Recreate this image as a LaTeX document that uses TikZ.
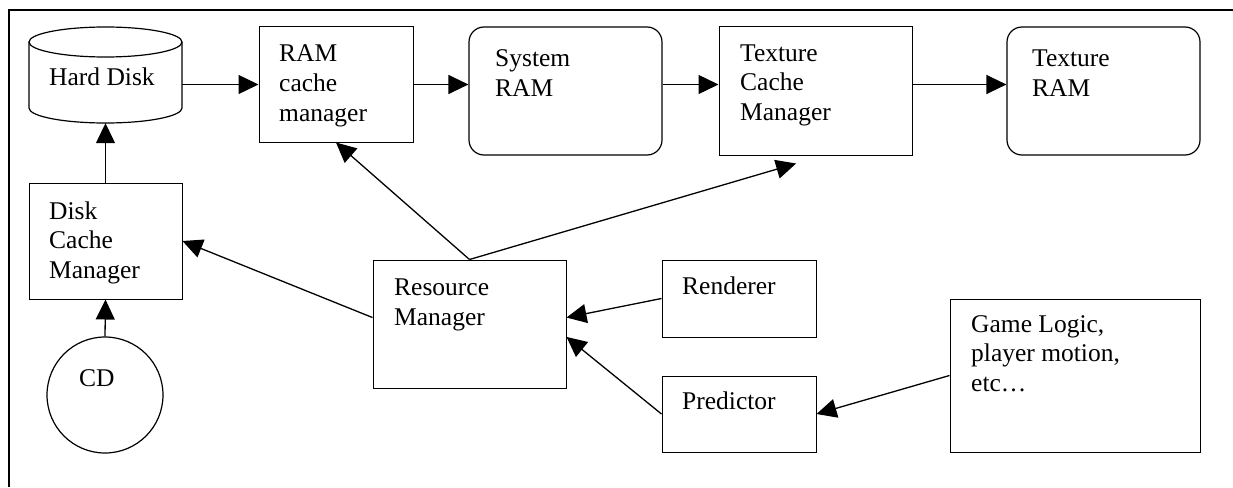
\documentclass[tikz,border=0pt]{standalone}
\usepackage{fontspec}
\setmainfont{Liberation Serif}
\usetikzlibrary{arrows.meta,calc}
\begin{document}
\begin{tikzpicture}[x=1pt,y=-1pt,
  box/.style={draw=black, line width=1pt, inner sep=0pt},
  rbox/.style={box, rounded corners=15pt},
  % text blocks are placed by the baseline of their last line
  txt/.style={anchor=base west, align=left, inner sep=0pt, font=\fontsize{25.5}{29.5}\selectfont},
  flow/.style={line width=1.3pt, -{Triangle[length=20pt,width=19pt]}},
  frame/.style={line width=1.3pt}]
\useasboundingbox (0,0) rectangle (1233,487);

% outer frame (open at right and bottom)
\draw[frame] (9,487) -- (9,10) -- (1233,10);

% hard disk cylinder
\node[inner sep=0pt, minimum width=153pt, minimum height=96pt] (hd) at (105.5,75) {};
\draw[line width=1.2pt] (105.5,42) ellipse [x radius=76.5pt, y radius=15pt];
\draw[line width=1.2pt] (29,42) -- (29,108)
  arc[start angle=180, end angle=360, x radius=76.5pt, y radius=15pt] -- (182,42);
\node[txt] (hdt) at (49,85) {Hard Disk};

% boxes
\node[box, minimum width=154pt, minimum height=115pt] (rcm) at (336,84.5) {};
\node[txt] (rcmt) at (279,121) {RAM\\cache\\manager};

\node[rbox, line width=1.2pt, minimum width=193pt, minimum height=128pt] (sr) at (565.5,91) {};
\node[txt] (srt) at (495,96) {System\\RAM};

\node[box, minimum width=193pt, minimum height=128pt] (tcm) at (815.5,91) {};
\node[txt] (tcmt) at (740,120) {Texture\\Cache\\Manager};

\node[rbox, line width=1.2pt, minimum width=193pt, minimum height=128pt] (tr) at (1103.5,91) {};
\node[txt] (trt) at (1032,96) {Texture\\RAM};

\node[box, minimum width=153pt, minimum height=116pt] (dcm) at (105.5,241) {};
\node[txt] (dcmt) at (49,278) {Disk\\Cache\\Manager};

\node[box, circle, line width=1.2pt, minimum size=116pt] (cd) at (105,395) {};
\node[txt] (cdt) at (79,386) {CD};

\node[box, minimum width=193pt, minimum height=128pt] (rm) at (469.5,324) {};
\node[txt] (rmt) at (394,325) {Resource\\Manager};

\node[box, minimum width=154pt, minimum height=77pt] (ren) at (739,298.5) {};
\node[txt] (rent) at (682,294) {Renderer};

\node[box, minimum width=154pt, minimum height=76pt] (pred) at (739,414) {};
\node[txt] (predt) at (682,409) {Predictor};

\node[box, minimum width=250pt, minimum height=153pt] (game) at (1075,375.5) {};
\node[txt] (gamet) at (971,391) {Game Logic,\\player motion,\\etc…};

% connector end points
\coordinate (tcmin) at ($(tcm.south west)!0.4!(tcm.south east)+(0,8)$);
\coordinate (rmleft) at ($(rm.north west)!0.45!(rm.south west)$);
\coordinate (rmren) at ($(rm.north east)!0.45!(rm.south east)$);
\coordinate (rmpred) at ($(rm.north east)!0.6!(rm.south east)$);

% data flow
\draw[flow] (hd.east |- rcm.west) -- (rcm.west);
\draw[flow] (rcm.east) -- (rcm.east -| sr.west);
\draw[flow] (sr.east |- rcm.east) -- (tcm.west |- rcm.east);
\draw[flow] (tcm.east |- rcm.east) -- (tr.west |- rcm.east);
\draw[flow] (dcm.north) -- (hd.south);
\draw[flow] (cd.north) -- (dcm.south);
\draw[flow] (rmleft) -- (dcm.east);
\draw[flow] (rm.north) -- (rcm.south);
\draw[flow] (rm.north) -- (tcmin);
\draw[flow] (ren.west) -- (rmren);
\draw[flow] (pred.west) -- (rmpred);
\draw[flow] (game.west) -- (pred.east);
\end{tikzpicture}
\end{document}
